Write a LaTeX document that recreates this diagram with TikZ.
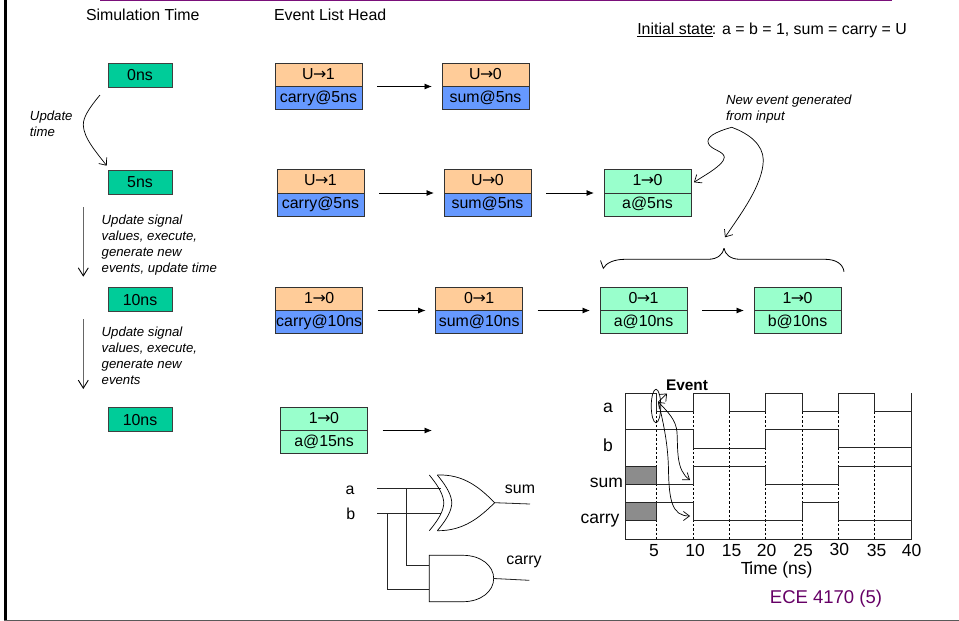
\documentclass[tikz,border=0pt]{standalone}
\usepackage{fontspec}
\setmainfont{Liberation Sans}
\newfontfamily\arrowfont{DejaVu Sans}
\usetikzlibrary{arrows.meta,shapes.geometric}
\definecolor{teal1}{HTML}{00CC99}
\definecolor{orange1}{HTML}{FFCC99}
\definecolor{blue1}{HTML}{6699FF}
\definecolor{green1}{HTML}{99FFCC}
\definecolor{purple1}{HTML}{7A0F7A}
\definecolor{purple2}{HTML}{660066}
\definecolor{hatch}{HTML}{8C8C8C}
\newcommand{\ar}{{\arrowfont\kern-.5pt →\kern-.5pt}}
\tikzset{
  txt/.style={inner sep=0pt,outer sep=0pt,font=\fontsize{15.9}{17}\selectfont},
  note/.style={inner sep=0pt,outer sep=0pt,align=left,font=\fontsize{13.2}{16}\selectfont\itshape},
  wavetxt/.style={inner sep=0pt,outer sep=0pt,font=\fontsize{17.5}{19}\selectfont},
  timebox/.style={draw=black!75,line width=.9pt,fill=teal1,minimum width=64pt,minimum height=24pt,inner sep=0pt,outer sep=0pt,text height=11.5pt,text depth=0pt,font=\fontsize{15.9}{17}\selectfont},
  evcell/.style={draw=black!80,line width=.9pt,minimum width=87pt,minimum height=23.2pt,inner sep=0pt,outer sep=0pt,text height=11.5pt,text depth=3.2pt,font=\fontsize{15.9}{17}\selectfont},
  nextarrow/.style={line width=.8pt,-{Latex[length=7.5pt,width=6pt]},shorten <=15pt,shorten >=10pt},
  openarrow/.style={line width=.7pt,-{Straight Barb[length=6pt,width=10pt]}},
  downarrow/.style={line width=.9pt,black!60,-{Straight Barb[length=8pt,width=10pt,black]}},
  wave/.style={line width=.8pt,black!85},
  tick/.style={line width=.7pt,dash pattern=on 2.5pt off 2pt},
  gate/.style={line width=.7pt},
  wire/.style={line width=.8pt,black!85}
}
% name, left x, junction y, top text, bottom text, top colour, bottom colour
\newcommand{\evbox}[7]{%
  \node[evcell,fill=#6,anchor=south west] (#1t) at (#2,#3) {#4};
  \node[evcell,fill=#7,anchor=north west] (#1b) at (#2,#3) {#5};
}
\begin{document}
\begin{tikzpicture}[x=1pt,y=-1pt]
\useasboundingbox (0,0) rectangle (959,621);
\fill[white] (0,0) rectangle (959,621);
% frame
\draw[line width=2.6pt,black] (5.3,0) -- (5.3,620);
\draw[line width=1.4pt,black!65] (4,620.2) -- (959,620.2);
\draw[line width=1.6pt,purple1] (100,.4) -- (892,.4);
% headings
\node[txt,anchor=west] (h1) at (86,15) {Simulation Time};
\node[txt,anchor=west] (h2) at (274,15) {Event List Head};
\node[txt,anchor=west] (init) at (637.3,30.5) {\underline{Initial state}\kern-1.5pt: a = b = 1, sum = carry = U};
% simulation time
\node[timebox] (t0) at (140,75) {0ns};
\node[timebox] (t1) at (140,182) {5ns};
\node[timebox] (t2) at (140,299.7) {10ns};
\node[timebox] (t3) at (140,419.7) {10ns};
\coordinate (upstart) at (100,95);
\coordinate (upend) at (106.7,165.7);
\draw[openarrow] (upstart) .. controls (90,107) and (83,117) .. (83.3,125) .. controls (83.5,138) and (97,153) .. (upend);
\node[note,anchor=west] (n0) at (30,124) {Update\\time};
\coordinate (d1s) at (83.3,207.3);
\coordinate (d1e) at (83.3,276.7);
\coordinate (d2s) at (83.3,319);
\coordinate (d2e) at (83.3,389);
\draw[downarrow] (d1s) -- (d1e);
\draw[downarrow] (d2s) -- (d2e);
\node[note,anchor=west] (n1) at (101.7,244.7) {Update signal\\values, execute,\\generate new\\events, update time};
\node[note,anchor=west] (n2) at (101.7,356.2) {Update signal\\values, execute,\\generate new\\events};
% event lists
\evbox{a1}{275}{86.5}{U\ar 1}{carry@5ns}{orange1}{blue1}
\evbox{a2}{442}{86.5}{U\ar 0}{sum@5ns}{orange1}{blue1}
\evbox{b1}{277}{193}{U\ar 1}{carry@5ns}{orange1}{blue1}
\evbox{b2}{444}{193}{U\ar 0}{sum@5ns}{orange1}{blue1}
\evbox{b3}{604}{193}{1\ar 0}{a@5ns}{green1}{green1}
\evbox{c1}{275.7}{310.5}{1\ar 0}{carry@10ns}{orange1}{blue1}
\evbox{c2}{435.7}{310.5}{0\ar 1}{sum@10ns}{orange1}{blue1}
\evbox{c3}{600}{310.5}{0\ar 1}{a@10ns}{green1}{green1}
\evbox{c4}{754}{310.5}{1\ar 0}{b@10ns}{green1}{green1}
\evbox{d1}{280.5}{430.5}{1\ar 0}{a@15ns}{green1}{green1}
\coordinate (dnext) at (442,430.5);
\draw[nextarrow] (a1b.north east) -- (a2b.north west);
\draw[nextarrow] (b1b.north east) -- (b2b.north west);
\draw[nextarrow] (b2b.north east) -- (b3b.north west);
\draw[nextarrow] (c1b.north east) -- (c2b.north west);
\draw[nextarrow] (c2b.north east) -- (c3b.north west);
\draw[nextarrow] (c3b.north east) -- (c4b.north west);
\draw[nextarrow] (d1b.north east) -- (dnext);
% new event annotation
\node[note,anchor=west] (n3) at (726,108.7) {New event generated\\from input};
\coordinate (peak) at (731.7,127.3);
\draw[openarrow] (peak) .. controls (715,132) and (706,137) .. (708.3,143.3) .. controls (711,150) and (724,151) .. (724.3,157.3) .. controls (724,165) and (705,175) .. (694,182.3);
\draw[openarrow] (peak) .. controls (750,134) and (763,145) .. (763.3,160) .. controls (763,185) and (740,215) .. (725,237.3);
% brace
\coordinate (bracetip) at (724,248.3);
\draw[line width=.8pt] (bracetip) .. controls (723,254) and (718,259.3) .. (708,259.3) -- (625,259.3) .. controls (614,259.3) and (606,263) .. (603.3,268.3) -- (600.5,260.5);
\draw[line width=.8pt] (bracetip) .. controls (725,254) and (730,259.3) .. (740,259.3) -- (825,259.3) .. controls (836,259.3) and (843,264) .. (844,271.7);
% gates
\node[txt] (la) at (350,490) {a};
\node[txt] (lb) at (350.7,514) {b};
\node[txt] (ls) at (520,489) {sum};
\node[txt] (lc) at (524,561.7) {carry};
\coordinate (ina) at (377,488.7);
\coordinate (inb) at (377,513.7);
\coordinate (xa) at (440.5,488.7);
\coordinate (xb) at (440.5,513.7);
\coordinate (ja) at (406.3,488.7);
\coordinate (jb) at (387.7,513.7);
\coordinate (aa) at (429.3,565);
\coordinate (ab) at (429.3,589);
\coordinate (xout) at (494.7,502.7);
\coordinate (aout) at (493.7,578.5);
\coordinate (sumend) at (530,504);
\coordinate (carryend) at (529.3,580.3);
\draw[wire] (ina) -- (xa);
\draw[wire] (inb) -- (xb);
\draw[wire] (ja) |- (aa);
\draw[wire] (jb) |- (ab);
\draw[wire] (xout) -- (sumend);
\draw[wire] (aout) -- (carryend);
\draw[gate] (429.3,475) .. controls (440,488) and (443.5,496) .. (443.8,503) .. controls (443.5,510) and (440,518) .. (429.3,530.7);
\draw[gate] (437.3,475) .. controls (448,488) and (451.5,496) .. (451.8,503) .. controls (451.5,510) and (448,518) .. (437.3,530.7);
\draw[gate] (437.3,475) .. controls (464,474) and (480,488) .. (xout) .. controls (480,517) and (464,531) .. (437.3,530.7);
\draw[gate] (429.3,555.3) -- (463,555.3) .. controls (481,555.3) and (493.7,565.7) .. (aout) .. controls (493.7,591.3) and (481,601.7) .. (463,601.7) -- (429.3,601.7) -- cycle;
% waveforms
\fill[hatch] (625,466) rectangle (656.7,484);
\fill[hatch] (625,502) rectangle (656.7,520);
\foreach \x in {656.7,693,729.3,765.7,802,838.3,874.5}{
  \draw[tick] (\x,393) -- (\x,539);
}
\draw[wave] (625,393) -- (625,539) -- (911,539) -- (911,393);
\draw[wave] (625,393) -- (656.7,393) -- (656.7,411) -- (693,411) -- (693,393) -- (729.3,393) -- (729.3,411) -- (765.7,411) -- (765.7,393) -- (802,393) -- (802,411) -- (838.3,411) -- (838.3,393) -- (874.5,393) -- (874.5,411) -- (911,411);
\draw[wave] (625,429.3) -- (693,429.3) -- (693,448.3) -- (765.7,448.3) -- (765.7,429.3) -- (838.3,429.3) -- (838.3,447.7) -- (911,447.7);
\draw[wave] (625,466) -- (656.7,466) -- (656.7,484) -- (625,484) -- (625,466);
\draw[wave] (656.7,484) -- (693,484) -- (693,466) -- (765.7,466) -- (765.7,484) -- (838.3,484) -- (838.3,466) -- (911,466);
\draw[wave] (625,502) -- (656.7,502) -- (656.7,520) -- (625,520) -- (625,502);
\draw[wave] (656.7,502) -- (693,502) -- (693,520.5) -- (802,520.5) -- (802,502) -- (838.3,502) -- (838.3,520.5) -- (911,520.5);
\node[wavetxt] (wa) at (608,407.7) {a};
\node[wavetxt] (wb) at (608,445) {b};
\node[wavetxt] (wsum) at (606.5,483) {sum};
\node[wavetxt] (wcarry) at (600,520.7) {carry};
\node[wavetxt] (t05) at (654,550.3) {5};
\node[wavetxt] (t10) at (695,550.3) {10};
\node[wavetxt] (t15) at (731.7,550.3) {15};
\node[wavetxt] (t20) at (766.7,550.3) {20};
\node[wavetxt] (t25) at (803,550.3) {25};
\node[wavetxt] (t30) at (839.3,549) {30};
\node[wavetxt] (t35) at (876.7,550.3) {35};
\node[wavetxt] (t40) at (911.7,550.3) {40};
\node[wavetxt] (tlabel) at (776.7,569.5) {T\kern-2.2pt ime (ns)};
\node[inner sep=0pt,outer sep=0pt,font=\fontsize{15.4}{17}\selectfont\bfseries] (ev) at (687,385.7) {Event};
\node[draw,line width=.7pt,ellipse,minimum width=9.5pt,minimum height=33.5pt,inner sep=0pt,outer sep=0pt] (evel) at (656,406) {};
\coordinate (evfoot) at (658.3,402);
\coordinate (evtop) at (667,393.5);
\coordinate (sumhit) at (690,480);
\coordinate (carryhit) at (690,516);
\draw[openarrow] (evfoot) -- (evtop);
\draw[line width=.7pt,{Straight Barb[length=5pt,width=8pt]}-{Straight Barb[length=6pt,width=9pt]}] (evfoot) .. controls (668,412) and (676,420) .. (677,432) .. controls (678,450) and (676,470) .. (sumhit);
\draw[line width=.7pt,-{Straight Barb[length=6pt,width=9pt]}] (evfoot) .. controls (664,425) and (668,445) .. (668.5,470) .. controls (669,500) and (672,516) .. (carryhit);
% ECE
\node[inner sep=0pt,outer sep=0pt,text=purple2,font=\fontsize{18.5}{20}\selectfont] (ece) at (826,598.5) {ECE 4170 (5)};
\end{tikzpicture}
\end{document}
